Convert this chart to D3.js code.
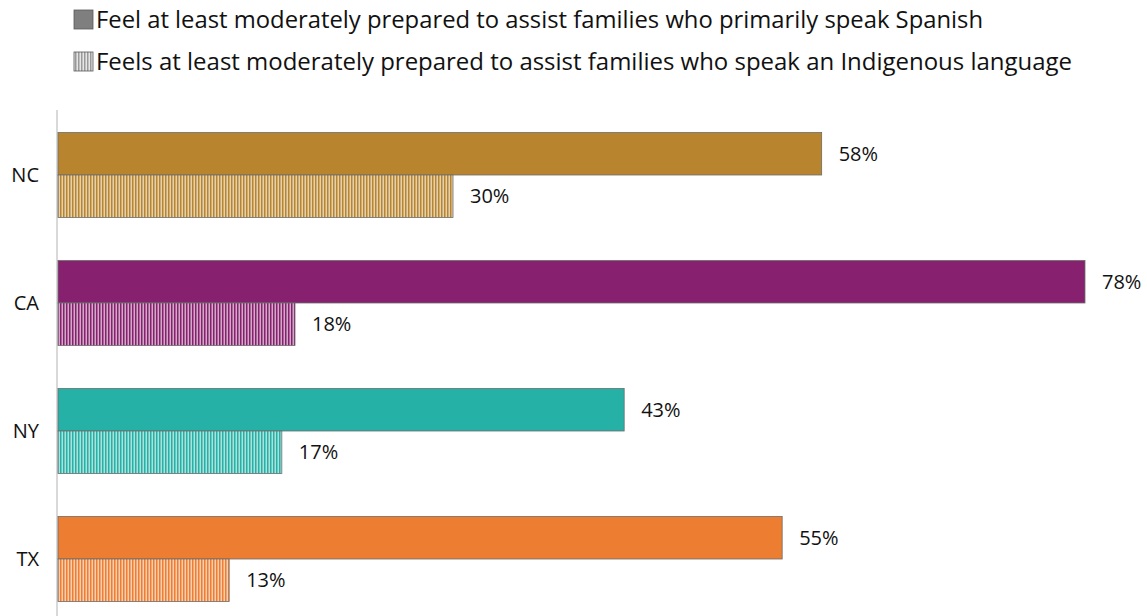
<!DOCTYPE html>
<html lang="en">
<head>
    <meta charset="UTF-8">
    <title>Preparedness by state</title>
    <style>
        body {
            margin: 0;
            background: #ffffff;
            font-family: "Open Sans", "Noto Sans", Arial, sans-serif;
        }
        svg text {
            fill: #111;
        }
    </style>
</head>
<body>
    <svg width="1147" height="616"></svg>
    <script src="https://d3js.org/d3.v7.min.js"></script>
    <script>
        // data
        const states = ["NC", "CA", "NY", "TX"];
        const spanish = [58, 78, 43, 55];
        const indigenous = [30, 18, 17, 13];
        const colors = ["#b8852e", "#86206f", "#25b1a5", "#ec7d31"];
        const legendLabels = [
            "Feel at least moderately prepared to assist families who primarily speak Spanish",
            "Feels at least moderately prepared to assist families who speak an Indigenous language"
        ];

        const svg = d3.select("svg");
        const defs = svg.append("defs");

        // vertical stripe pattern per colour
        const addStripes = (id, col, tint) => {
            const p = defs.append("pattern")
                .attr("id", id)
                .attr("patternUnits", "userSpaceOnUse")
                .attr("width", 3)
                .attr("height", 10);
            p.append("rect").attr("width", 3).attr("height", 10)
                .attr("fill", d3.interpolateRgb(col, "#ffffff")(tint));
            p.append("rect").attr("width", 1.5).attr("height", 10)
                .attr("fill", col);
        };
        colors.forEach((c, i) => addStripes("stripe" + i, c, 0.62));
        addStripes("stripeGray", "#9a9a9a", 0.75);

        const x = d3.scaleLinear()
            .domain([0, 78])
            .range([58, 1085]);

        const y = d3.scaleBand()
            .domain(states)
            .range([111, 623])
            .paddingInner(0.336)
            .paddingOuter(0.168);

        const half = y.bandwidth() / 2;

        // axis line
        svg.append("line")
            .attr("x1", 57).attr("x2", 57)
            .attr("y1", 110).attr("y2", 616)
            .attr("stroke", "#d9d9d9")
            .attr("stroke-width", 2);

        const g = svg.append("g");

        g.selectAll(".bar-es")
            .data(states)
            .join("rect")
            .attr("class", "bar-es")
            .attr("x", x(0))
            .attr("y", d => y(d))
            .attr("width", (d, i) => x(spanish[i]) - x(0))
            .attr("height", half)
            .attr("fill", (d, i) => colors[i])
            .attr("stroke", "#6b6b6b")
            .attr("stroke-width", 0.8);

        g.selectAll(".bar-ind")
            .data(states)
            .join("rect")
            .attr("class", "bar-ind")
            .attr("x", x(0))
            .attr("y", d => y(d) + half)
            .attr("width", (d, i) => x(indigenous[i]) - x(0))
            .attr("height", half)
            .attr("fill", (d, i) => `url(#stripe${i})`)
            .attr("stroke", "#6b6b6b")
            .attr("stroke-width", 0.8);

        // value labels
        g.selectAll(".lab-es")
            .data(states)
            .join("text")
            .attr("x", (d, i) => x(spanish[i]) + 17)
            .attr("y", d => y(d) + half / 2)
            .attr("dy", "0.35em")
            .attr("font-size", 20)
            .text((d, i) => spanish[i] + "%");

        g.selectAll(".lab-ind")
            .data(states)
            .join("text")
            .attr("x", (d, i) => x(indigenous[i]) + 17)
            .attr("y", d => y(d) + half * 1.5)
            .attr("dy", "0.35em")
            .attr("font-size", 20)
            .text((d, i) => indigenous[i] + "%");

        // category labels
        g.selectAll(".cat")
            .data(states)
            .join("text")
            .attr("x", 39)
            .attr("y", d => y(d) + half)
            .attr("dy", "0.35em")
            .attr("text-anchor", "end")
            .attr("font-size", 20)
            .text(d => d);

        // legend
        const legend = svg.append("g");
        const legendFills = ["#7f7f7f", "url(#stripeGray)"];
        const legendWidths = [887, 976];
        legendLabels.forEach((txt, i) => {
            const ly = 10 + i * 42;
            legend.append("rect")
                .attr("x", 74).attr("y", ly)
                .attr("width", 19).attr("height", 19)
                .attr("fill", legendFills[i])
                .attr("stroke", "#595959")
                .attr("stroke-width", 0.8);
            legend.append("text")
                .attr("x", 96)
                .attr("y", ly + 10)
                .attr("dy", "0.35em")
                .attr("font-size", 23)
                .attr("textLength", legendWidths[i])
                .attr("lengthAdjust", "spacingAndGlyphs")
                .text(txt);
        });
    </script>
</body>
</html>
